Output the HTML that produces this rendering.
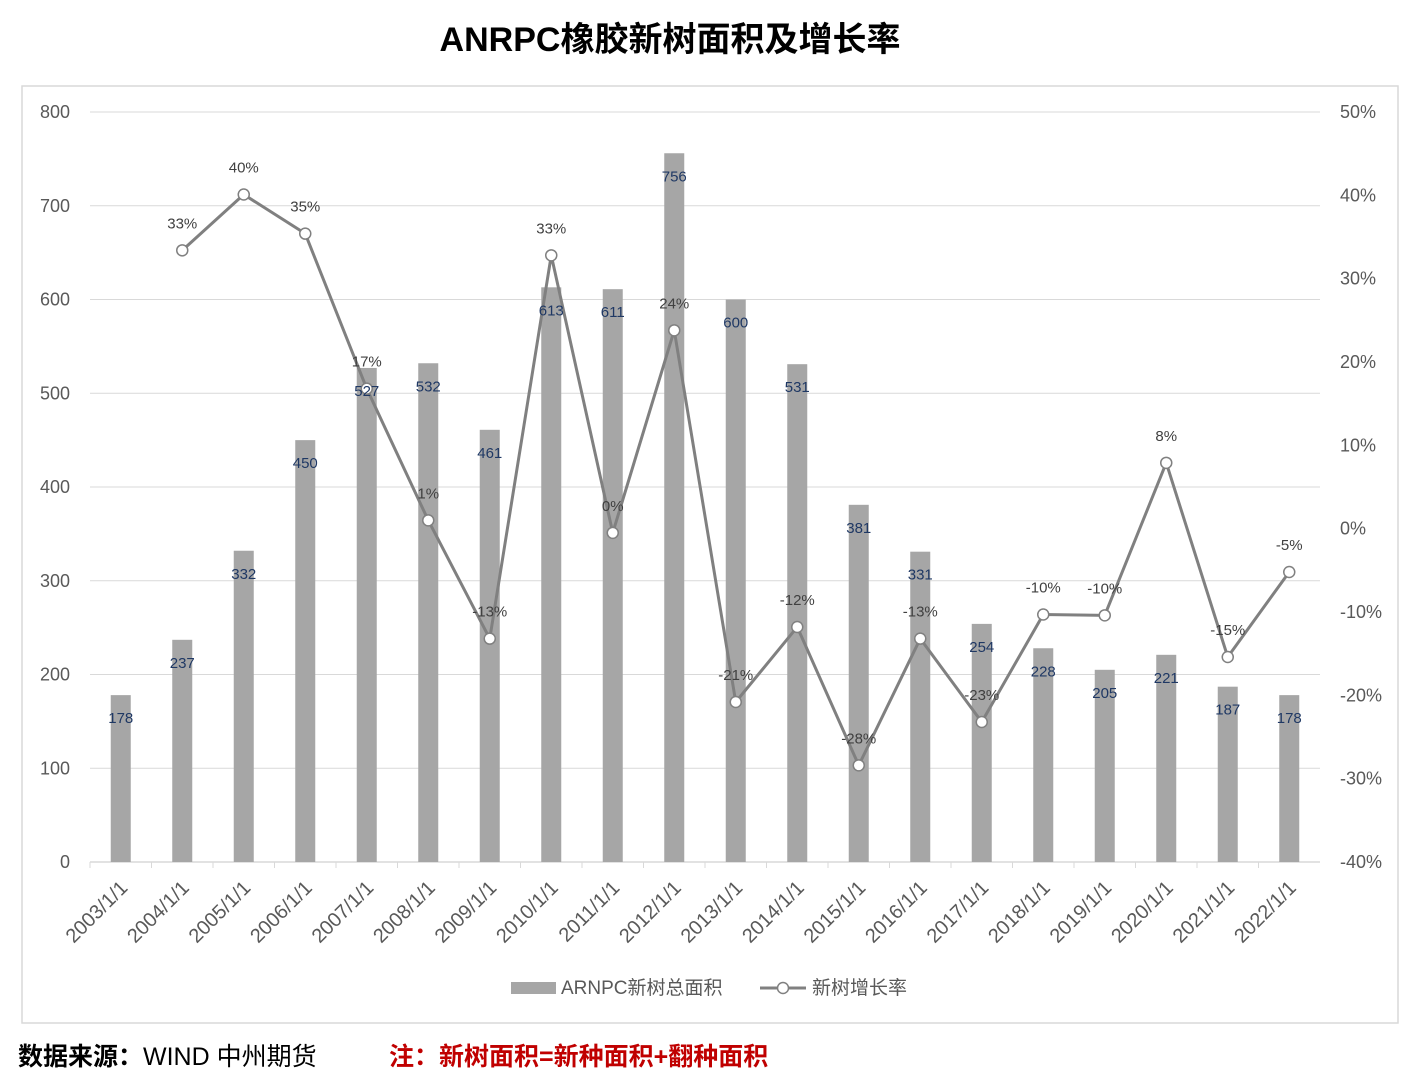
<!DOCTYPE html>
<html><head><meta charset="utf-8"><style>
body{margin:0;width:1427px;height:1080px;background:#fff;overflow:hidden;font-family:"Liberation Sans","Noto Sans CJK SC",sans-serif}
</style></head><body>
<svg id="c" width="1427" height="1080" xmlns="http://www.w3.org/2000/svg" font-family="Liberation Sans, Noto Sans CJK SC, sans-serif">
<text x="670" y="51" text-anchor="middle" font-size="34" font-weight="bold" fill="#000">ANRPC橡胶新树面积及增长率</text>
<rect x="22" y="86" width="1376" height="937" fill="none" stroke="#d9d9d9" stroke-width="1.5"/>
<g id="grid"></g><g id="bars"></g><g id="line"></g><g id="labels"></g>
<g>
<rect x="511" y="982" width="45" height="12" fill="#a6a6a6"/>
<text x="561" y="994" font-size="19" fill="#595959">ARNPC新树总面积</text>
<line x1="760" y1="988" x2="806" y2="988" stroke="#808080" stroke-width="3"/>
<circle cx="783" cy="988" r="5.5" fill="#fff" stroke="#808080" stroke-width="1.5"/>
<text x="812" y="994" font-size="19" fill="#595959">新树增长率</text>
</g>
<text x="18" y="1065" font-size="25" fill="#000"><tspan font-weight="bold">数据来源：</tspan>WIND  中州期货</text>
<text x="389" y="1065" font-size="25" font-weight="bold" fill="#c00000">注：新树面积=新种面积+翻种面积</text>
</svg>
<script>
const categories=["2003/1/1","2004/1/1","2005/1/1","2006/1/1","2007/1/1","2008/1/1","2009/1/1","2010/1/1","2011/1/1","2012/1/1","2013/1/1","2014/1/1","2015/1/1","2016/1/1","2017/1/1","2018/1/1","2019/1/1","2020/1/1","2021/1/1","2022/1/1"];
const areaValues=[178,237,332,450,527,532,461,613,611,756,600,531,381,331,254,228,205,221,187,178];
const growthValues=[null,33.4,40.1,35.4,16.8,1,-13.2,32.8,-0.5,23.8,-20.8,-11.8,-28.4,-13.2,-23.2,-10.3,-10.4,7.9,-15.4,-5.2];
const growthLabels=[null,"33%","40%","35%","17%","1%","-13%","33%","0%","24%","-21%","-12%","-28%","-13%","-23%","-10%","-10%","8%","-15%","-5%"];
const leftTicks=[0,100,200,300,400,500,600,700,800];
const rightTicks=[-40,-30,-20,-10,0,10,20,30,40,50];
const NS="http://www.w3.org/2000/svg";
const X0=90,X1=1320,Y0=862,Y1=112;
const step=(X1-X0)/categories.length;
const xc=i=>X0+step*(i+0.5);
const yL=v=>Y0-(v-0)/(800-0)*(Y0-Y1);
const yR=v=>Y0-(v+40)/(90)*(Y0-Y1);
function mk(tag,attrs,parent,txt){const e=document.createElementNS(NS,tag);for(const k in attrs)e.setAttribute(k,attrs[k]);if(txt!=null)e.textContent=txt;document.getElementById(parent).appendChild(e);return e;}
leftTicks.forEach(t=>{
 const y=yL(t);
 if(t>0){const g=mk('line',{x1:X0,x2:X1,y1:y,y2:y,stroke:'#d9d9d9','stroke-width':1},'grid');
 
 }
 const l=mk('text',{x:70,y:y+6,'text-anchor':'end','font-size':18,fill:'#595959'},'grid',t);
 
 
});
rightTicks.forEach(t=>{
 const l=mk('text',{x:1340,y:yR(t)+6,'font-size':18,fill:'#595959'},'grid',t+'%');
 
 
});
const ax=mk('line',{x1:X0,x2:X1,y1:Y0,y2:Y0,stroke:'#d9d9d9','stroke-width':1.5},'grid');


categories.forEach((c,i)=>{
 const tx=X0+step*i;
 mk('line',{x1:tx,x2:tx,y1:Y0,y2:Y0+6,stroke:'#d9d9d9'},'grid');
 const lx=xc(i)+8, ly=Y0+27;
 const l=mk('text',{x:lx,y:ly,'text-anchor':'end','font-size':20,fill:'#595959',transform:`rotate(-45 ${lx} ${ly})`},'grid',c);
 
 
 const b=mk('rect',{x:xc(i)-10,y:yL(areaValues[i]),width:20,height:Y0-yL(areaValues[i]),fill:'#a6a6a6'},'bars');
 
 
 const bl=mk('text',{x:xc(i),y:yL(areaValues[i])+28,'text-anchor':'middle','font-size':15,fill:'#1f3864'},'labels',areaValues[i]);
 
 
});
let d='';
growthValues.forEach((v,i)=>{if(v==null)return;d+=(d?'L':'M')+xc(i)+' '+yR(v);});
const p=mk('path',{d:d,fill:'none',stroke:'#808080','stroke-width':3},'line');


growthValues.forEach((v,i)=>{if(v==null)return;
 const c=mk('circle',{cx:xc(i),cy:yR(v),r:5.5,fill:'#fff',stroke:'#808080','stroke-width':1.5},'line');
 
 
 const t=mk('text',{x:xc(i),y:yR(v)-22,'text-anchor':'middle','font-size':15,fill:'#404040'},'labels',growthLabels[i]);
 
 
});
</script>
</body></html>
